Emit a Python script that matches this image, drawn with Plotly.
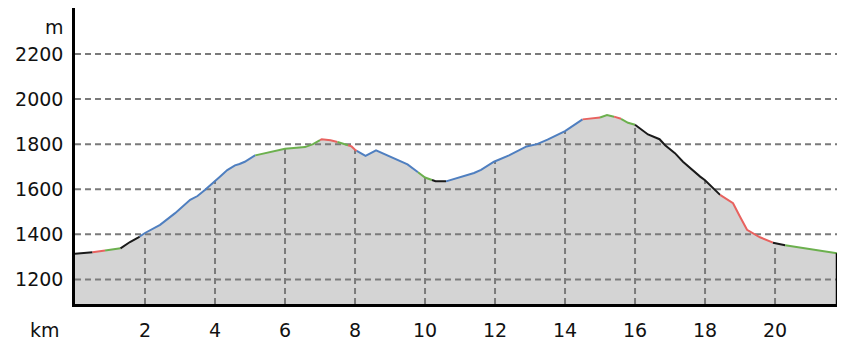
import numpy as np
import plotly.graph_objects as go

# distance (km) and elevation (m)
km = [0.0, 0.5, 0.86, 1.3, 1.57, 1.8, 2.0, 2.43, 2.86, 3.29, 3.5, 3.71, 3.9, 4.14, 4.35,
      4.57, 4.7, 4.85, 5.14, 5.57, 6.0, 6.57, 6.8, 7.05, 7.3, 7.6, 7.9, 8.0, 8.3, 8.6,
      9.0, 9.5, 10.0, 10.3, 10.6, 11.0, 11.4, 11.6, 11.97, 12.4, 12.9, 13.2, 13.5, 14.0,
      14.5, 14.8, 15.0, 15.2, 15.4, 15.57, 15.8, 16.0, 16.37, 16.7, 16.86, 17.14, 17.37,
      17.86, 18.0, 18.43, 18.8, 19.0, 19.2, 19.57, 19.94, 20.29, 21.0, 21.77]
elev = [1314, 1321, 1328, 1338, 1366, 1385, 1406, 1442, 1494, 1553, 1570, 1597, 1625, 1656, 1685,
        1706, 1712, 1722, 1750, 1765, 1780, 1787, 1800, 1822, 1817, 1806, 1790, 1775, 1748, 1773,
        1745, 1710, 1652, 1636, 1635, 1652, 1672, 1686, 1722, 1750, 1790, 1800, 1820, 1858,
        1910, 1913, 1918, 1929, 1922, 1915, 1895, 1886, 1843, 1822, 1795, 1760, 1722,
        1656, 1640, 1575, 1538, 1478, 1420, 1387, 1363, 1352, 1334, 1316]

# coloured stretches of the profile line (start km, end km, class)
seg_start = [0.0, 0.5, 0.86, 1.3, 1.85, 5.15, 7.0, 7.5, 7.8, 8.05, 9.8, 10.2, 10.6,
             14.5, 15.0, 15.4, 15.6, 16.0, 18.43, 19.94, 20.29]
seg_end = seg_start[1:] + [21.77]
seg_class = ["k", "r", "g", "k", "b", "g", "r", "g", "r", "b", "g", "k", "b",
             "r", "g", "r", "g", "k", "r", "k", "g"]
class_colors = {"k": "#1a1a1a", "r": "#e8625f", "g": "#6cb04e", "b": "#4f7fc0"}

y_ticks = [1200, 1400, 1600, 1800, 2000, 2200]
x_ticks = [2, 4, 6, 8, 10, 12, 14, 16, 18, 20]
y_range = [1091, 2404]
x_range = [0, 21.77]

km_a = np.array(km, dtype=float)
el_a = np.array(elev, dtype=float)

fig = go.Figure()

# filled area
fig.add_trace(go.Scatter(x=km, y=elev, mode="lines", line=dict(width=0),
                         fill="tozeroy", fillcolor="#d4d4d4", hoverinfo="skip"))

grid_style = dict(color="#7a7a7a", width=2, dash="6px,4px")
# horizontal grid lines
for yt in y_ticks:
    fig.add_trace(go.Scatter(x=x_range, y=[yt, yt], mode="lines", line=grid_style,
                             hoverinfo="skip"))
# vertical grid lines under the profile
for xt in x_ticks:
    top = float(np.interp(xt, km_a, el_a))
    fig.add_trace(go.Scatter(x=[xt, xt], y=[y_range[0], top], mode="lines",
                             line=grid_style, hoverinfo="skip"))

# coloured profile line
for s, e, c in zip(seg_start, seg_end, seg_class):
    inside = km_a[(km_a > s) & (km_a < e)]
    xs = np.concatenate([[s], inside, [e]])
    ys = np.interp(xs, km_a, el_a)
    fig.add_trace(go.Scatter(x=xs, y=ys, mode="lines",
                             line=dict(color=class_colors[c], width=2),
                             hoverinfo="skip"))

# right end closing line
fig.add_trace(go.Scatter(x=[km[-1], km[-1]], y=[y_range[0], elev[-1]], mode="lines",
                         line=dict(color="#000000", width=2.5), hoverinfo="skip"))

font = dict(family="DejaVu Sans", size=19, color="#111111")

fig.update_layout(
    width=861, height=356,
    margin=dict(l=75, r=24, t=8, b=52),
    paper_bgcolor="white", plot_bgcolor="white",
    showlegend=False,
    font=font,
    xaxis=dict(range=x_range, tickvals=x_ticks, ticktext=[str(v) for v in x_ticks],
               showgrid=False, zeroline=False, showline=True, linecolor="#000000",
               linewidth=2.5, ticks="", ticklabelstandoff=7, tickfont=font),
    yaxis=dict(range=y_range, tickvals=y_ticks, ticktext=[str(v) for v in y_ticks],
               showgrid=False, zeroline=False, showline=True, linecolor="#000000",
               linewidth=2.5, ticks="", ticklabelstandoff=5, tickfont=font),
    annotations=[
        dict(text="km", xref="paper", yref="paper", x=-0.04, y=-0.088,
             xanchor="center", yanchor="middle", showarrow=False, font=font),
        dict(text="m", xref="paper", yref="paper", x=-0.012, y=0.936,
             xanchor="right", yanchor="middle", showarrow=False, font=font),
    ],
)

fig.write_html("out.html")
